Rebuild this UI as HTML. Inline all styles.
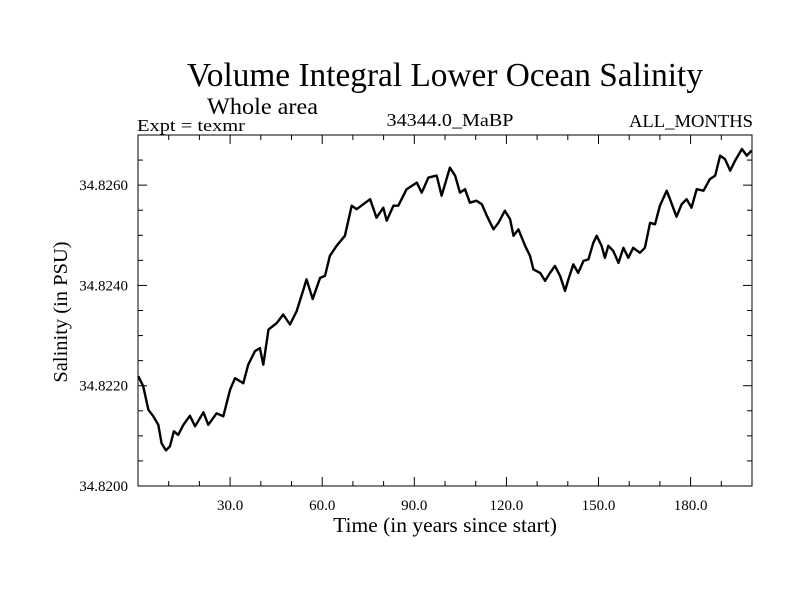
<!DOCTYPE html>
<html><head><meta charset="utf-8"><style>
body{margin:0;background:#fff}
svg{display:block;font-family:"Liberation Serif",serif}
</style></head><body>
<svg id="chart" width="800" height="600" viewBox="0 0 800 600">
<text x="445" y="86" font-size="34" text-anchor="middle" textLength="516" lengthAdjust="spacingAndGlyphs">Volume Integral Lower Ocean Salinity</text>
<text x="207" y="114" font-size="23" textLength="111" lengthAdjust="spacingAndGlyphs">Whole area</text>
<text x="137" y="131" font-size="17" textLength="108" lengthAdjust="spacingAndGlyphs">Expt = texmr</text>
<text x="450" y="126" font-size="18" text-anchor="middle" textLength="127" lengthAdjust="spacingAndGlyphs">34344.0_MaBP</text>
<text x="753" y="127" font-size="18" text-anchor="end" textLength="124" lengthAdjust="spacingAndGlyphs">ALL_MONTHS</text>
<text x="445" y="532" font-size="21.5" text-anchor="middle">Time (in years since start)</text>
<text transform="translate(67,312) rotate(-90)" font-size="20.5" text-anchor="middle">Salinity (in PSU)</text>
<g id="axes"></g>
<path id="series" fill="none" stroke="#000" stroke-width="2.4" stroke-linejoin="round"/>
<rect x="138" y="135" width="614" height="351" fill="none" stroke="#000" stroke-width="1"/>
</svg>
<script>
const years=[0.1,1.7,3.4,5.0,6.6,7.7,9.1,10.4,11.7,13.1,14.8,16.9,18.6,21.3,22.9,25.6,27.8,30.0,31.6,34.3,35.9,38.1,39.7,40.8,42.5,45.2,47.3,49.5,51.7,53.9,54.9,56.9,59.3,60.9,62.5,64.7,67.4,69.6,71.2,75.6,77.7,79.9,81.0,83.2,84.8,87.5,90.8,92.4,94.6,97.3,98.9,101.6,103.3,104.9,106.5,108.1,110.3,112.0,113.6,115.8,117.4,119.5,121.2,122.3,123.9,126.1,127.7,128.8,131.0,132.6,134.2,135.8,137.5,139.1,140.2,141.8,143.4,145.1,146.7,148.3,149.4,151.0,152.1,153.2,154.8,156.5,158.1,159.7,161.3,163.5,165.1,166.8,168.4,170.0,172.2,173.3,175.4,177.1,178.7,180.3,182.0,184.2,186.3,188.0,189.6,191.2,192.9,194.5,196.7,198.3,199.9];
const salinity=[34.82219,34.82199,34.82152,34.82139,34.82122,34.82085,34.82071,34.82079,34.82109,34.82102,34.82122,34.82140,34.82119,34.82147,34.82122,34.82145,34.82139,34.82192,34.82215,34.82205,34.82242,34.82269,34.82275,34.82242,34.82312,34.82325,34.82342,34.82322,34.82349,34.82392,34.82412,34.82373,34.82415,34.82419,34.82459,34.82479,34.82499,34.82559,34.82552,34.82572,34.82535,34.82555,34.82529,34.82559,34.82559,34.82592,34.82605,34.82585,34.82615,34.82619,34.82579,34.82635,34.82619,34.82585,34.82592,34.82565,34.82569,34.82562,34.82539,34.82512,34.82525,34.82549,34.82532,34.82499,34.82512,34.82479,34.82459,34.82432,34.82425,34.82409,34.82425,34.82439,34.82419,34.82389,34.82412,34.82442,34.82425,34.82449,34.82452,34.82485,34.82499,34.82479,34.82455,34.82479,34.82469,34.82445,34.82475,34.82455,34.82475,34.82465,34.82475,34.82525,34.82522,34.82559,34.82589,34.82572,34.82537,34.82562,34.82572,34.82555,34.82592,34.82589,34.82612,34.82619,34.82659,34.82652,34.82629,34.82649,34.82672,34.82659,34.82669];
const xTickValues=[30,60,90,120,150,180];
const xTickLabels=["30.0","60.0","90.0","120.0","150.0","180.0"];
const yTickValues=[34.82,34.822,34.824,34.826];
const yTickLabels=["34.8200","34.8220","34.8240","34.8260"];
const X0=138,X1=752,Y0=486,Y1=135,xMin=0,xMax=200,yMin=34.82,yMax=34.827;
const xs=v=>X0+(v-xMin)/(xMax-xMin)*(X1-X0);
const ys=v=>Y0-(v-yMin)/(yMax-yMin)*(Y0-Y1);
const NS='http://www.w3.org/2000/svg';
const axes=document.getElementById('axes');
function line(x1,y1,x2,y2){const l=document.createElementNS(NS,'line');l.setAttribute('x1',x1);l.setAttribute('y1',y1);l.setAttribute('x2',x2);l.setAttribute('y2',y2);l.setAttribute('stroke','#000');l.setAttribute('stroke-width','1');


axes.appendChild(l);}
function txt(x,y,s,anchor){const t=document.createElementNS(NS,'text');t.setAttribute('x',x);t.setAttribute('y',y);t.setAttribute('font-size','15');t.setAttribute('text-anchor',anchor);t.textContent=s;


axes.appendChild(t);}
for(let v=10;v<xMax;v+=10){const x=xs(v);const maj=v%30===0;const L=maj?9:5;line(x,Y0,x,Y0-L);line(x,Y1,x,Y1+L);}
for(let i=1;i<14;i++){const v=yMin+i*0.0005;const y=ys(v);const maj=i%4===0;const L=maj?9:5;line(X0,y,X0+L,y);line(X1,y,X1-L,y);}
xTickValues.forEach((v,i)=>txt(xs(v),510,xTickLabels[i],'middle'));
yTickValues.forEach((v,i)=>txt(128,ys(v)+5,yTickLabels[i],'end'));
let d='';years.forEach((v,i)=>{d+=(i?'L':'M')+xs(v).toFixed(1)+' '+ys(salinity[i]).toFixed(1);});
document.getElementById('series').setAttribute('d',d);
</script>
</body></html>
